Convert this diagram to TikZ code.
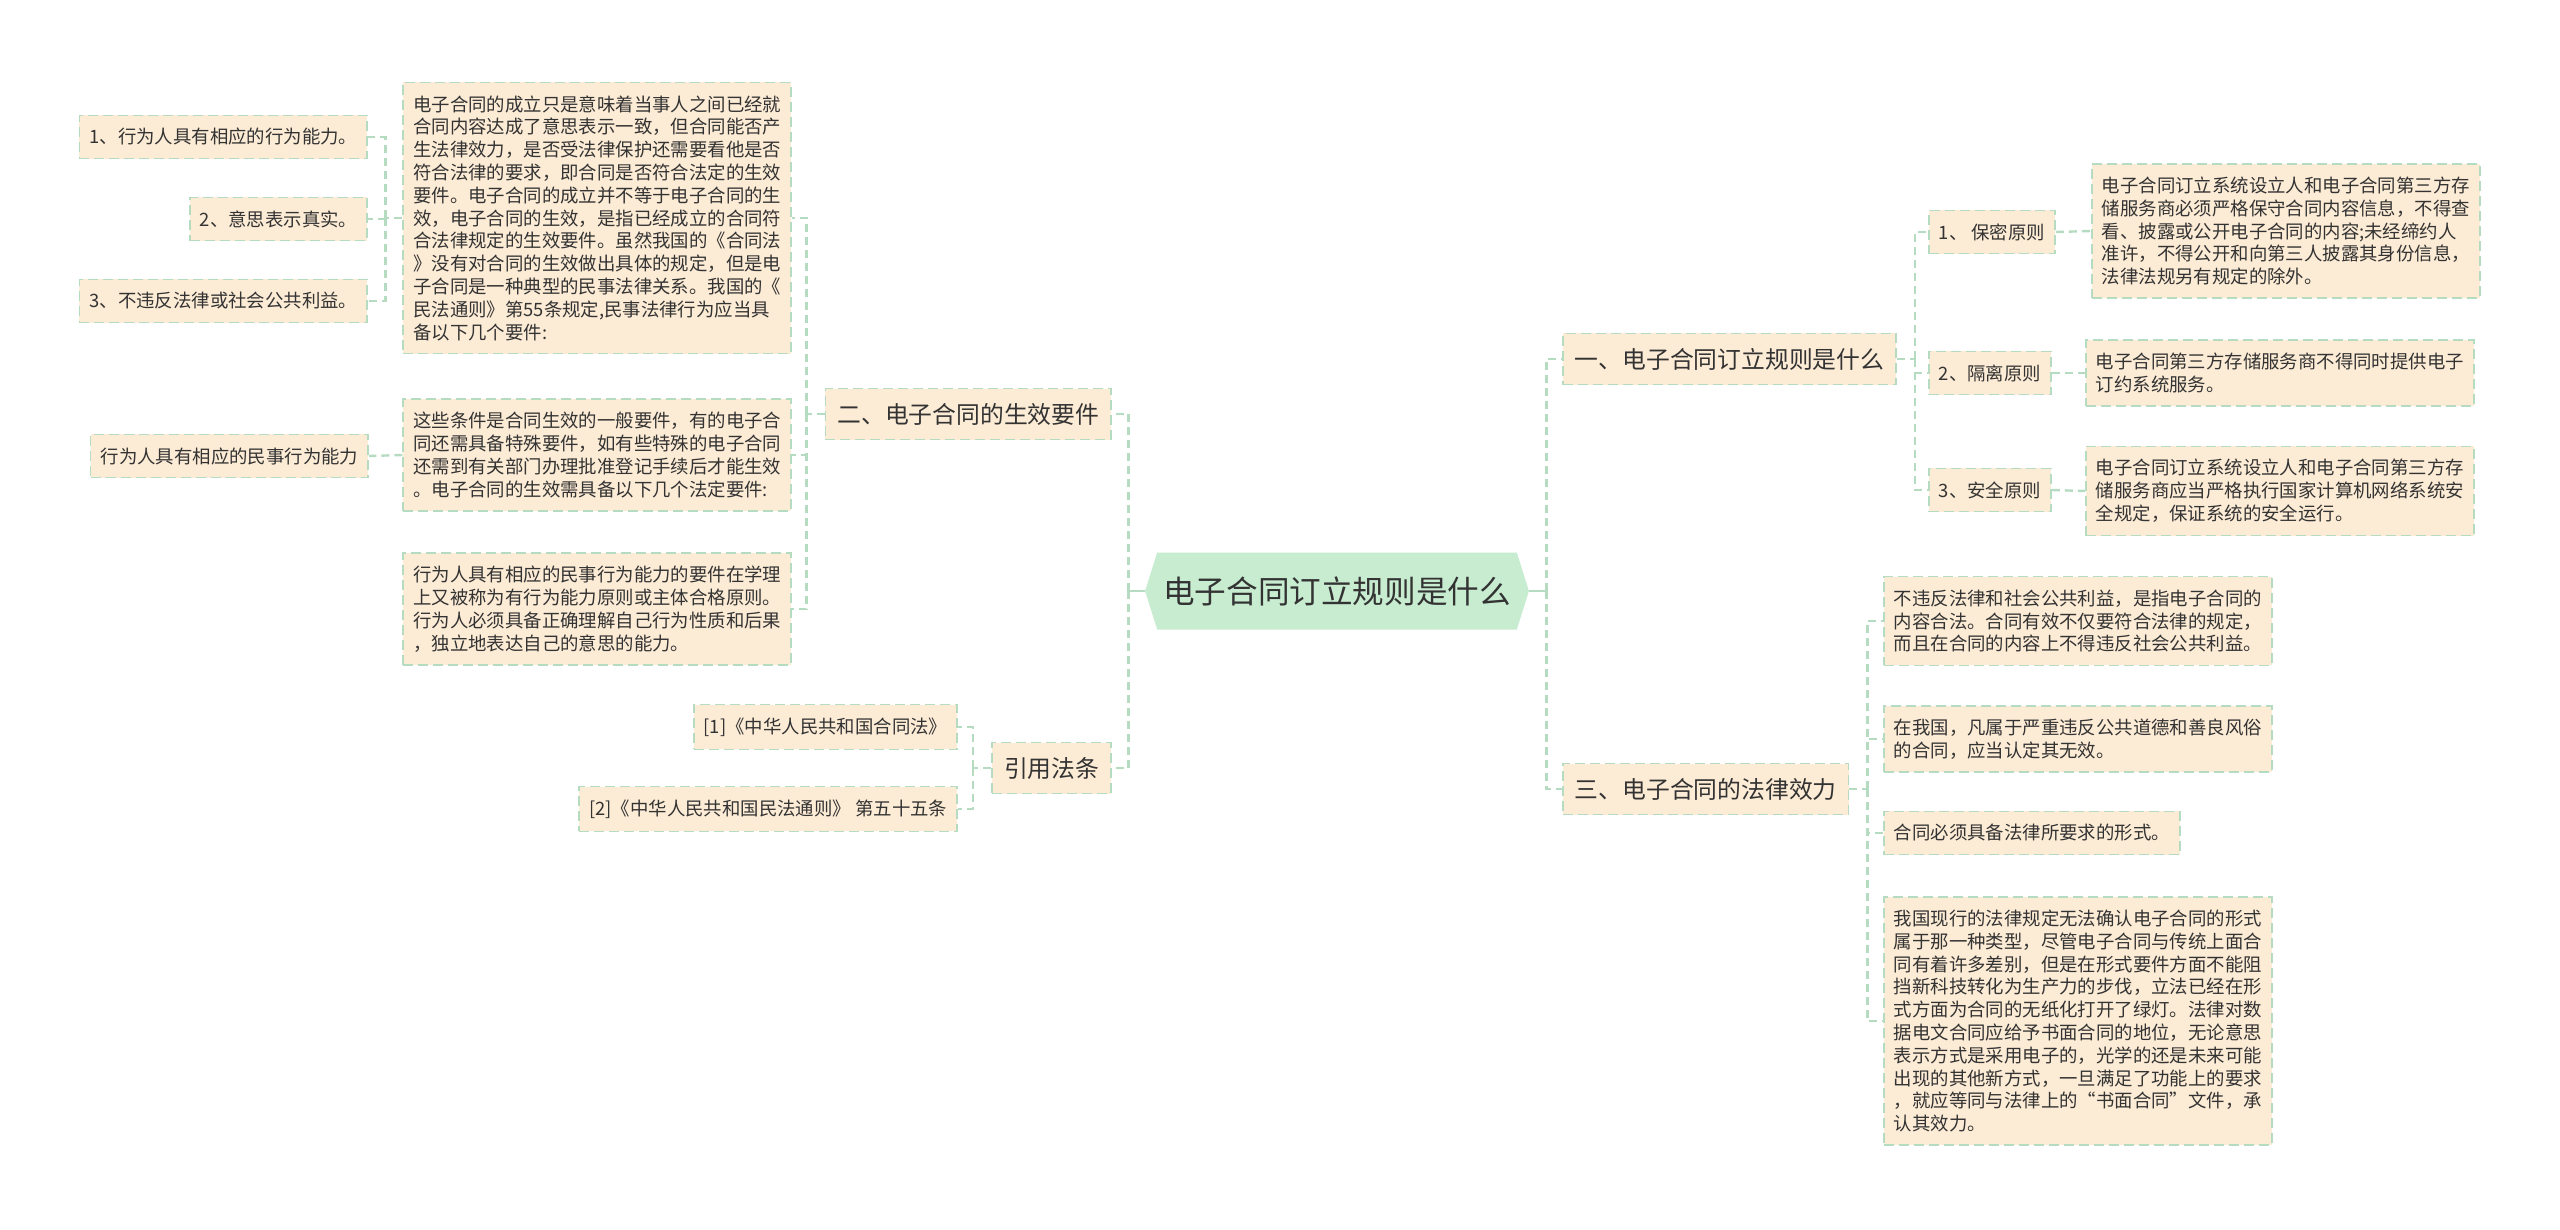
\documentclass[tikz,border=0pt]{standalone}
\usepackage{fontspec}
\setmainfont{Noto Sans CJK SC}
\usetikzlibrary{shapes.symbols}
\definecolor{boxfill}{RGB}{252,235,213}
\definecolor{linegreen}{RGB}{181,219,193}
\definecolor{rootfill}{RGB}{200,236,208}
\definecolor{inkgray}{RGB}{51,51,51}
\newcommand{\leaffont}{\fontsize{9.2}{11.4}\selectfont}
\newcommand{\branchfont}{\fontsize{11.9}{14}\selectfont}
\newcommand{\rootfont}{\fontsize{15.8}{18}\selectfont}

\begin{document}
\begin{tikzpicture}[x=0.5pt, y=-0.5pt,
    every node/.style={text=inkgray},
    leaf/.style={draw=linegreen, line width=0.8pt, dash pattern=on 5pt off 2.5pt,
                 fill=boxfill, inner xsep=5pt, inner ysep=6.5pt, minimum height=21pt,
                 align=left, font=\leaffont},
    branch/.style={leaf, font=\branchfont, minimum height=25.5pt, inner xsep=6pt},
    root/.style={signal, signal to=west and east, signal pointer angle=145,
                 fill=rootfill, font=\rootfont, minimum height=38.5pt, inner xsep=3pt},
    link/.style={draw=linegreen, line width=1.2pt, dash pattern=on 4pt off 2.5pt},
    rootlink/.style={draw=linegreen, line width=1.2pt}]
  \useasboundingbox[fill=white] (0,0) rectangle (2560,1230);

  % centre
  \node[root] (root) at (1337,591) {电子合同订立规则是什么};

  % left side
  \node[branch, anchor=east] (b2) at (1112,414) {二、电子合同的生效要件};
  \node[branch, anchor=east] (b4) at (1112,768) {引用法条};

  \node[leaf, anchor=east] (t1) at (792,218) {电子合同的成立只是意味着当事人之间已经就\\
    合同内容达成了意思表示一致，但合同能否产\\
    生法律效力，是否受法律保护还需要看他是否\\
    符合法律的要求，即合同是否符合法定的生效\\
    要件。电子合同的成立并不等于电子合同的生\\
    效，电子合同的生效，是指已经成立的合同符\\
    合法律规定的生效要件。虽然我国的《合同法\\
    》没有对合同的生效做出具体的规定，但是电\\
    子合同是一种典型的民事法律关系。我国的《\\
    民法通则》第55条规定,民事法律行为应当具\\
    备以下几个要件:};
  \node[leaf, anchor=east] (t2) at (792,455) {这些条件是合同生效的一般要件，有的电子合\\
    同还需具备特殊要件，如有些特殊的电子合同\\
    还需到有关部门办理批准登记手续后才能生效\\
    。电子合同的生效需具备以下几个法定要件:};
  \node[leaf, anchor=east] (t3) at (792,609) {行为人具有相应的民事行为能力的要件在学理\\
    上又被称为有行为能力原则或主体合格原则。\\
    行为人必须具备正确理解自己行为性质和后果\\
    ，独立地表达自己的意思的能力。};

  \node[leaf, anchor=east] (l1) at (368,137) {1、行为人具有相应的行为能力。};
  \node[leaf, anchor=east] (l2) at (368,219) {2、意思表示真实。};
  \node[leaf, anchor=east] (l3) at (368,301) {3、不违反法律或社会公共利益。};
  \node[leaf, anchor=east] (l4) at (369,456) {行为人具有相应的民事行为能力};

  \node[leaf, anchor=east] (c1) at (958,727) {[1]《中华人民共和国合同法》};
  \node[leaf, anchor=east] (c2) at (958,809) {[2]《中华人民共和国民法通则》 第五十五条};

  % right side
  \node[branch, anchor=west] (b1) at (1562,359) {一、电子合同订立规则是什么};
  \node[branch, anchor=west] (b3) at (1562,789) {三、电子合同的法律效力};

  \node[leaf, anchor=west] (p1) at (1928,232) {1、 保密原则};
  \node[leaf, anchor=west] (p2) at (1928,373) {2、隔离原则};
  \node[leaf, anchor=west] (p3) at (1928,490) {3、安全原则};

  \node[leaf, anchor=west] (a1) at (2091,231) {电子合同订立系统设立人和电子合同第三方存\\
    储服务商必须严格保守合同内容信息，不得查\\
    看、披露或公开电子合同的内容;未经缔约人\\
    准许，不得公开和向第三人披露其身份信息，\\
    法律法规另有规定的除外。};
  \node[leaf, anchor=west] (a2) at (2085,373) {电子合同第三方存储服务商不得同时提供电子\\
    订约系统服务。};
  \node[leaf, anchor=west] (a3) at (2085,491) {电子合同订立系统设立人和电子合同第三方存\\
    储服务商应当严格执行国家计算机网络系统安\\
    全规定，保证系统的安全运行。};

  \node[leaf, anchor=west] (d1) at (1883,621) {不违反法律和社会公共利益，是指电子合同的\\
    内容合法。合同有效不仅要符合法律的规定，\\
    而且在合同的内容上不得违反社会公共利益。};
  \node[leaf, anchor=west] (d2) at (1883,739) {在我国，凡属于严重违反公共道德和善良风俗\\
    的合同，应当认定其无效。};
  \node[leaf, anchor=west] (d3) at (1883,833) {合同必须具备法律所要求的形式。};
  \node[leaf, anchor=west] (d4) at (1883,1021) {我国现行的法律规定无法确认电子合同的形式\\
    属于那一种类型，尽管电子合同与传统上面合\\
    同有着许多差别，但是在形式要件方面不能阻\\
    挡新科技转化为生产力的步伐，立法已经在形\\
    式方面为合同的无纸化打开了绿灯。法律对数\\
    据电文合同应给予书面合同的地位，无论意思\\
    表示方式是采用电子的，光学的还是未来可能\\
    出现的其他新方式，一旦满足了功能上的要求\\
    ，就应等同与法律上的“书面合同”文件，承\\
    认其效力。};

  % connectors
  \draw[rootlink] (root.west) -- ++(-16,0) coordinate (lj);
  \draw[rootlink] (root.east) -- ++(17,0) coordinate (rj);
  \foreach \n in {b2,b4} \draw[link] (lj) |- (\n.east);
  \foreach \n in {b1,b3} \draw[link] (rj) |- (\n.west);

  \draw[link] (b2.west) -- ++(-18,0) coordinate (j2);
  \foreach \n in {t1,t2,t3} \draw[link] (j2) |- (\n.east);
  \draw[link] (t1.west) -- ++(-17,0) coordinate (j21);
  \foreach \n in {l1,l2,l3} \draw[link] (j21) |- (\n.east);
  \draw[link] (t2.west) -- (l4.east);

  \draw[link] (b4.west) -- ++(-18,0) coordinate (j4);
  \foreach \n in {c1,c2} \draw[link] (j4) |- (\n.east);

  \draw[link] (b1.east) -- ++(18,0) coordinate (j1);
  \foreach \n in {p1,p2,p3} \draw[link] (j1) |- (\n.west);
  \draw[link] (p1.east) -- (a1.west);
  \draw[link] (p2.east) -- (a2.west);
  \draw[link] (p3.east) -- (a3.west);

  \draw[link] (b3.east) -- ++(18,0) coordinate (j3);
  \foreach \n in {d1,d2,d3,d4} \draw[link] (j3) |- (\n.west);
\end{tikzpicture}
\end{document}
